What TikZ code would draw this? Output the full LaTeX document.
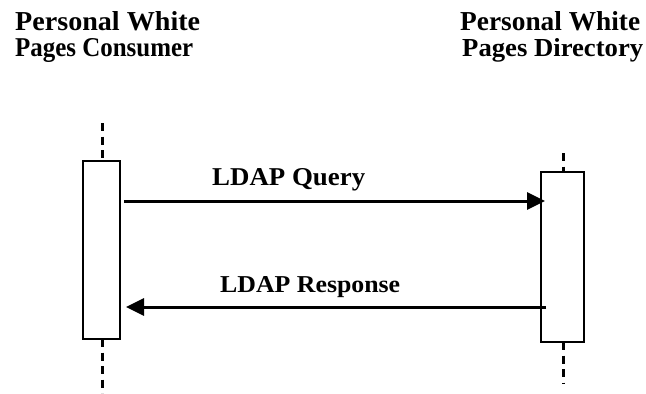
\documentclass[tikz,border=0pt]{standalone}
\usepackage{fontspec}
\setmainfont{Liberation Serif}
\usetikzlibrary{arrows.meta}
\begin{document}
\begin{tikzpicture}[x=1pt,y=-1pt,
  lbl/.style={anchor=base west,inner sep=0pt,font=\fontsize{26}{28}\selectfont\bfseries},
  lifeline/.style={line width=3pt,dash pattern=on 8pt off 5.5pt},
  actbox/.style={draw,line width=1.3pt,fill=white,inner sep=0pt},
  msg/.style={line width=3pt,-{Triangle[length=18pt,width=17pt]}}]
\useasboundingbox (0,0) rectangle (646,394);
% titles
\node[lbl] (lt1) at (15,30) {\resizebox{185pt}{19pt}{Personal White}};
\node[lbl] (lt2) at (15,56) {\resizebox{178pt}{18pt}{Pages Consumer}};
\node[lbl] (rt1) at (460,30) {\resizebox{180pt}{19pt}{Personal White}};
\node[lbl] (rt2) at (462,56) {\resizebox{181pt}{18pt}{Pages Directory}};
% lifelines
\coordinate (ltop) at (102.5,123);
\coordinate (lbot) at (102.5,393);
\coordinate (rtop) at (563,153);
\coordinate (rbot) at (563,383);
\draw[lifeline] (ltop) -- (lbot);
\draw[lifeline] (rtop) -- (rbot);
% activation boxes
\node[actbox,minimum width=37pt,minimum height=178pt] (lbox) at (101.5,250) {};
\node[actbox,minimum width=43pt,minimum height=170pt] (rbox) at (562.5,257) {};
% messages
\coordinate (qs) at (124,201);
\coordinate (qe) at (545,201);
\coordinate (rs) at (546,307);
\coordinate (re) at (126,307);
\draw[msg] (qs) -- (qe);
\draw[msg] (rs) -- (re);
\node[lbl] (ql) at (212,185) {\resizebox{153pt}{17pt}{LDAP Query}};
\node[lbl] (rl) at (220,292) {\resizebox{180pt}{16pt}{LDAP Response}};
\end{tikzpicture}
\end{document}
